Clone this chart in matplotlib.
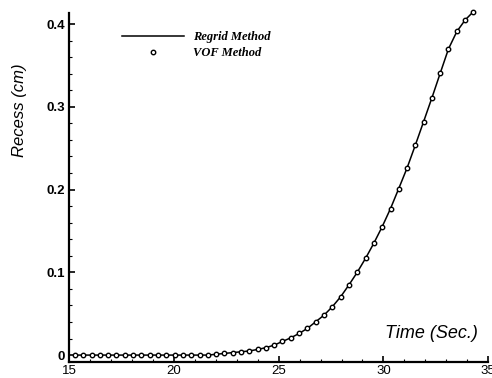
"""Recess depth against time, comparing the regrid solution (line) with
the VOF solution (open circles)."""

from matplotlib import pyplot as plt
from matplotlib.ticker import MultipleLocator

# sample times (s) and recess depth (cm)
time_s = [15.27, 15.67, 16.06, 16.46, 16.86, 17.25, 17.65, 18.05, 18.44,
          18.84, 19.24, 19.63, 20.03, 20.43, 20.82, 21.22, 21.61, 22.01,
          22.41, 22.80, 23.20, 23.60, 23.99, 24.39, 24.79, 25.18, 25.58,
          25.98, 26.37, 26.77, 27.17, 27.56, 27.96, 28.36, 28.75, 29.15,
          29.54, 29.94, 30.34, 30.73, 31.13, 31.53, 31.92, 32.32, 32.72,
          33.11, 33.51, 33.91, 34.30]
regrid = [0.0, 0.0, 0.0, 0.0, 0.0, 0.0, 0.0, 0.0, 0.0,
          0.0, 0.0, 0.0, 0.0, 0.0, 0.0, 0.0, 0.0, 0.001,
          0.002, 0.003, 0.004, 0.005, 0.0068, 0.0090, 0.0121, 0.0165, 0.0209,
          0.0262, 0.0323, 0.0403, 0.0484, 0.0584, 0.0705, 0.085, 0.100, 0.117,
          0.135, 0.155, 0.177, 0.201, 0.226, 0.254, 0.282, 0.311, 0.341,
          0.370, 0.391, 0.405, 0.415]
vof = regrid

x_ticks = [15, 20, 25, 30, 35]
y_ticks = [0, 0.1, 0.2, 0.3, 0.4]

plt.rcParams["font.family"] = ["Liberation Sans", "DejaVu Sans"]

fig = plt.figure(figsize=(4.92, 3.78), dpi=100)
ax = fig.add_axes([0.141, 0.042, 0.851, 0.924])

ax.plot(time_s, regrid, color="black", lw=1.1, label="Regrid Method")
ax.plot(time_s, vof, ls="none", marker="o", ms=3.2, mfc="white",
        mec="black", mew=1.0, clip_on=False, label="VOF Method")

ax.set_xlim(15, 35)
ax.set_ylim(-0.0085, 0.4135)
ax.set_xticks(x_ticks)
ax.set_xticklabels([str(v) for v in x_ticks])
ax.set_yticks(y_ticks)
ax.set_yticklabels(["0", "0.1", "0.2", "0.3", "0.4"])
ax.xaxis.set_minor_locator(MultipleLocator(1))
ax.yaxis.set_minor_locator(MultipleLocator(0.02))

for side in ["top", "right"]:
    ax.spines[side].set_visible(False)
for side in ["left", "bottom"]:
    ax.spines[side].set_linewidth(1.6)

ax.tick_params(which="major", direction="in", length=4.5, width=1.2,
               labelsize=9.5, pad=3)
ax.tick_params(axis="x", which="major", pad=2)
ax.tick_params(which="minor", direction="in", length=2.5, width=0.8)
for lbl in ax.get_yticklabels():
    lbl.set_fontweight("bold")

ax.text(-0.12, 0.722, "Recess (cm)", transform=ax.transAxes, rotation=90,
        ha="center", va="center", fontsize=12, style="italic")
ax.text(0.976, 0.083, "Time (Sec.)", transform=ax.transAxes,
        ha="right", va="center", fontsize=13, style="italic")

ax.legend(loc="upper left", bbox_to_anchor=(0.11, 0.965), frameon=False,
          handlelength=5.0, handletextpad=0.7, numpoints=1, borderpad=0,
          labelspacing=0.3,
          prop={"family": "Liberation Serif", "style": "italic",
                "weight": "bold", "size": 9})

fig.savefig("out.png", dpi=100)
